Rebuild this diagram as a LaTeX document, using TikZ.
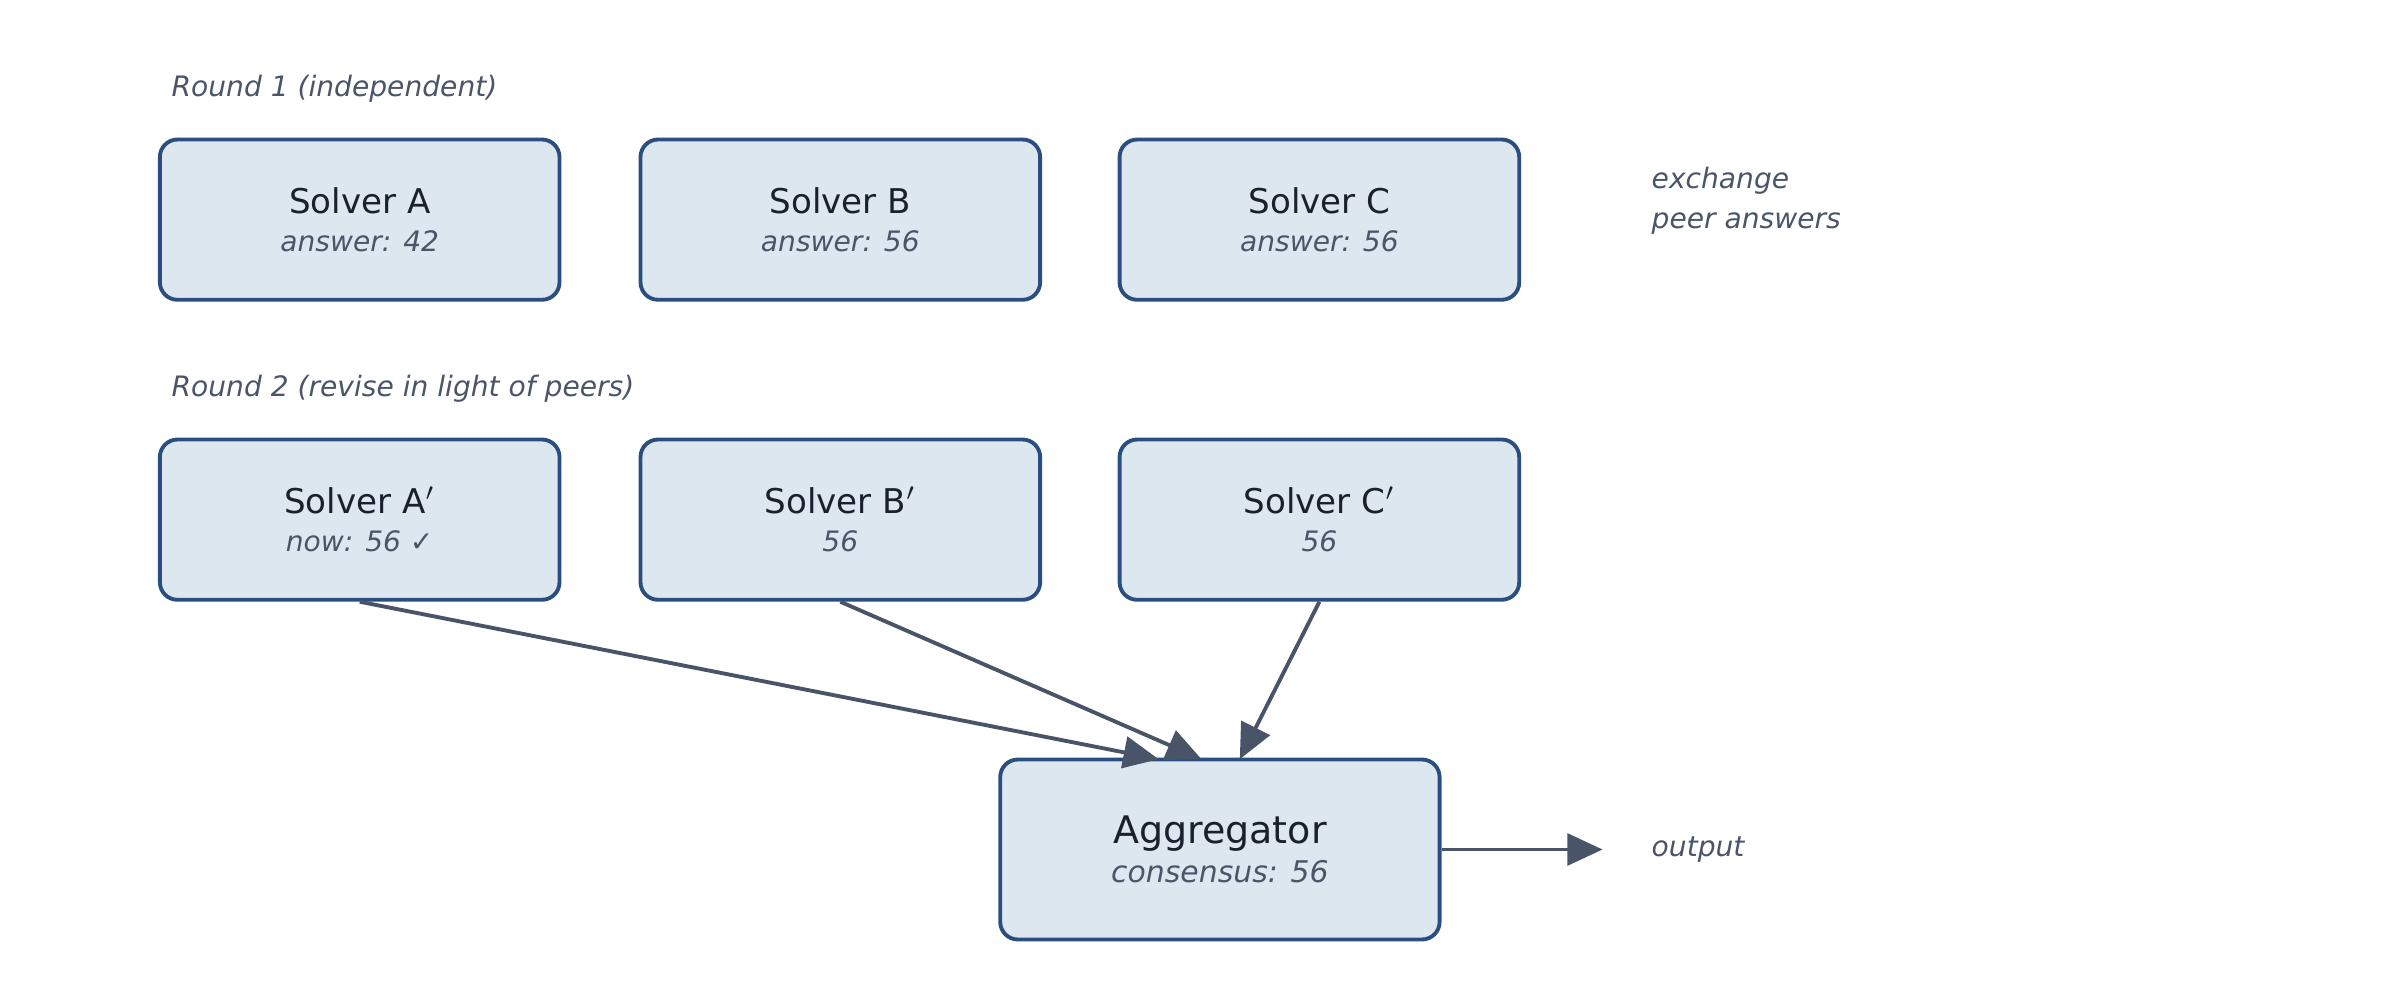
\documentclass[tikz,border=0pt]{standalone}
\usepackage{fontspec}
\setmainfont{DejaVu Sans}
\usetikzlibrary{arrows.meta}
\definecolor{boxfill}{HTML}{DDE7F0}
\definecolor{boxline}{HTML}{2A4E7F}
\definecolor{arrowcol}{HTML}{4A5468}
\definecolor{titlecol}{HTML}{1A202C}
\definecolor{notecol}{HTML}{4A5568}
\begin{document}
\begin{tikzpicture}
[
	x	= 0.01531cm,	% one unit is one pixel of the reference
	y	= -0.01531cm,
	%
	% ----------- options for the boxes --------------
	solver/.style =
	{
		draw		= boxline,
		fill		= boxfill,
		line width	= 1.1pt,
		rounded corners	= 5pt,
		minimum width	= 113.7pt,
		minimum height	= 45.6pt,
		align		= center,
		inner sep	= 0pt
	},
	%
	title/.style =
	{
		text		= titlecol,
		font		= \fontsize{9.7}{12}\selectfont
	},
	%
	note/.style =
	{
		text		= notecol,
		font		= \fontsize{8}{11.3}\selectfont\itshape,
		align		= left
	},
	%
	flow/.style =
	{
		draw		= arrowcol,
		line width	= 1.1pt,
		-{Triangle[length=10pt, width=9pt]}
	}
]

\useasboundingbox (0,0) rectangle (1568,653);

% round 1
\node [note, anchor = west] (r1) at (104,58) {Round 1 (independent)};
\node [solver] (A) at (235,143.5) {\textcolor{titlecol}{\fontsize{9.7}{12}\selectfont Solver A}\\[-1pt]{\color{notecol}\fontsize{8}{10}\selectfont\itshape answer: 42}};
\node [solver] (B) at (549,143.5) {\textcolor{titlecol}{\fontsize{9.7}{12}\selectfont Solver B}\\[-1pt]{\color{notecol}\fontsize{8}{10}\selectfont\itshape answer: 56}};
\node [solver] (C) at (862,143.5) {\textcolor{titlecol}{\fontsize{9.7}{12}\selectfont Solver C}\\[-1pt]{\color{notecol}\fontsize{8}{10}\selectfont\itshape answer: 56}};
\node [note, anchor = west] (ex) at (1071,131) {exchange\\peer answers};

% round 2
\node [note, anchor = west] (r2) at (104,254) {Round 2 (revise in light of peers)};
\node [solver] (A2) at (235,339.5) {\textcolor{titlecol}{\fontsize{9.7}{12}\selectfont Solver A$'$}\\[-1pt]{\color{notecol}\fontsize{8}{10}\selectfont\itshape now: 56 ✓}};
\node [solver] (B2) at (549,339.5) {\textcolor{titlecol}{\fontsize{9.7}{12}\selectfont Solver B$'$}\\[-1pt]{\color{notecol}\fontsize{8}{10}\selectfont\itshape 56}};
\node [solver] (C2) at (862,339.5) {\textcolor{titlecol}{\fontsize{9.7}{12}\selectfont Solver C$'$}\\[-1pt]{\color{notecol}\fontsize{8}{10}\selectfont\itshape 56}};

% aggregation
\node [solver, minimum width = 125pt, minimum height = 51.2pt] (agg) at (797,555) {\textcolor{titlecol}{\fontsize{10.8}{13}\selectfont Aggregator}\\[-1pt]{\color{notecol}\fontsize{8.5}{10}\selectfont\itshape consensus: 56}};
\coordinate (out) at (1047,555);
\node [note, anchor = west] (outlbl) at (1071,555) {output};

\coordinate (aA) at (757,496);
\coordinate (aB) at (785,496);
\coordinate (aC) at (810,496);
\draw [flow] (A2.south) -- (aA);
\draw [flow] (B2.south) -- (aB);
\draw [flow] (C2.south) -- (aC);
\draw [flow] (agg.east) -- (out);

\end{tikzpicture}
\end{document}
